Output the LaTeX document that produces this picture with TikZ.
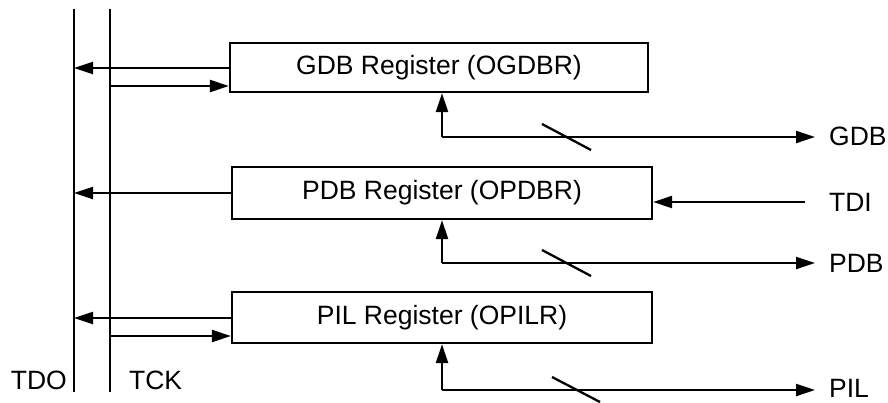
\documentclass[tikz,border=0pt]{standalone}
\usepackage{fontspec}
\setmainfont{Liberation Sans}
\usetikzlibrary{arrows.meta}
\begin{document}
\begin{tikzpicture}[x=1pt,y=-1pt,
  line width=2.3pt,
  reg/.style={draw,line width=2.3pt,inner sep=0pt,font=\fontsize{26.5}{30}\selectfont},
  lbl/.style={inner sep=0pt,font=\fontsize{26.5}{30}\selectfont},
  arr/.style={-{Triangle[length=19pt,width=12pt]}},
  bus/.style={line width=2.3pt}]
\useasboundingbox (0,0) rectangle (888,402);
% buses
\coordinate (tdoT) at (74,9);
\coordinate (tdoB) at (74,392);
\coordinate (tckT) at (110,9);
\coordinate (tckB) at (110,392);
\draw[bus] (tdoT) -- (tdoB);
\draw[bus] (tckT) -- (tckB);
% registers
\node[reg,minimum width=418pt,minimum height=49pt] (r1) at (439,67.5) {GDB Register (OGDBR)};
\node[reg,minimum width=420pt,minimum height=52pt] (r2) at (442,193) {PDB Register (OPDBR)};
\node[reg,minimum width=420pt,minimum height=51pt] (r3) at (442,317.5) {PIL Register (OPILR)};
% labels
\node[lbl,anchor=base east] (tdo) at (68,389) {TDO};
\node[lbl,anchor=base west] (tck) at (128,389) {TCK};
\node[lbl,anchor=base west] (gdb) at (828,145) {GDB};
\node[lbl,anchor=base west] (tdi) at (828,211) {TDI};
\node[lbl,anchor=base west] (pdb) at (828,272) {PDB};
\node[lbl,anchor=base west] (pil) at (828,397) {PIL};
% TDO / TCK connections
\coordinate (o1) at (74,68);
\coordinate (c1) at (110,86);
\coordinate (o2) at (74,193);
\coordinate (o3) at (74,318);
\coordinate (c3) at (110,336);
\draw[arr] (r1.west |- o1) -- (o1);
\draw[arr] (c1) -- (r1.west |- c1);
\draw[arr] (r2.west |- o2) -- (o2);
\draw[arr] (r3.west |- o3) -- (o3);
\draw[arr] (c3) -- (r3.west |- c3);
% data buses
\coordinate (j1) at (442,137);
\coordinate (e1) at (815,137);
\coordinate (j2) at (442,263);
\coordinate (e2) at (815,263);
\coordinate (j3) at (442,390);
\coordinate (e3) at (815,390);
\draw[arr] (j1) -- (j1 |- r1.south);
\draw[arr] (j1) -- (e1);
\draw[arr] (j2) -- (j2 |- r2.south);
\draw[arr] (j2) -- (e2);
\draw[arr] (j3) -- (j3 |- r3.south);
\draw[arr] (j3) -- (e3);
% TDI
\coordinate (ti) at (805,202);
\draw[arr] (ti) -- (r2.east |- ti);
% bus width slashes
\coordinate (s1a) at (542,124); \coordinate (s1b) at (591,150);
\coordinate (s2a) at (542,250); \coordinate (s2b) at (591,276);
\coordinate (s3a) at (552,377); \coordinate (s3b) at (600,402);
\draw (s1a) -- (s1b);
\draw (s2a) -- (s2b);
\draw (s3a) -- (s3b);
\end{tikzpicture}
\end{document}
